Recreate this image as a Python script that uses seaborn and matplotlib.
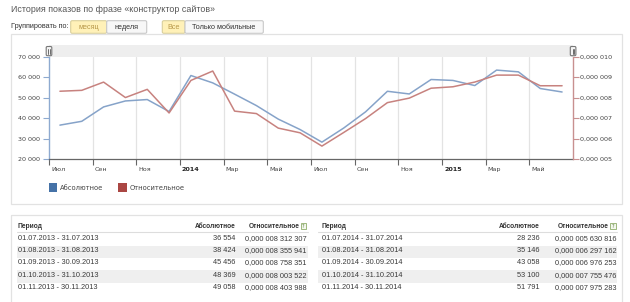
import numpy as np
import pandas as pd
import matplotlib
matplotlib.use("Agg")
import matplotlib.pyplot as plt
import matplotlib.transforms as mtransforms
from matplotlib.patches import Rectangle, FancyBboxPatch
import seaborn as sns

# ---------------- data ----------------
months = ["2013-07", "2013-08", "2013-09", "2013-10", "2013-11", "2013-12",
          "2014-01", "2014-02", "2014-03", "2014-04", "2014-05", "2014-06",
          "2014-07", "2014-08", "2014-09", "2014-10", "2014-11", "2014-12",
          "2015-01", "2015-02", "2015-03", "2015-04", "2015-05", "2015-06"]
absolute = [36554, 38424, 45456, 48369, 49058, 43200,
            60800, 57200, 51700, 46100, 39500, 34400,
            28236, 35146, 43058, 53100, 51791, 58850,
            58400, 55900, 63450, 62600, 54450, 52750]
# relative share, in millionths
relative = [8.312307, 8.355941, 8.758351, 8.003522, 8.403988, 7.25,
            8.84, 9.30, 7.34, 7.22, 6.51, 6.28,
            5.630816, 6.297162, 6.976253, 7.755476, 7.975283, 8.46,
            8.53, 8.76, 9.10, 9.10, 8.58, 8.58]
x_tick_labels = ["Июл", "Сен", "Ноя", "2014", "Мар", "Май",
                 "Июл", "Сен", "Ноя", "2015", "Мар", "Май"]
left_ticks = [20000, 30000, 40000, 50000, 60000, 70000]
right_ticks = [5, 6, 7, 8, 9, 10]
series_names = ["Абсолютное", "Относительное"]
title = "История показов по фразе «конструктор сайтов»"
left_rows = [0, 1, 2, 3, 4]
right_rows = [12, 13, 14, 15, 16]

# ---------------- setup ----------------
sns.set_style("white")
plt.rcParams["font.family"] = ["DejaVu Sans"]
W, H, DPI = 630, 302, 100
def pt(px):
    return px * 72.0 / DPI

UI = ["Liberation Sans", "DejaVu Sans"]
fig = plt.figure(figsize=(W / DPI, H / DPI), dpi=DPI)
fig.patch.set_facecolor("white")

bg = fig.add_axes([0, 0, 1, 1], zorder=0)
bg.set_xlim(0, W)
bg.set_ylim(H, 0)
bg.axis("off")

# header text
bg.text(11, 9, title, fontsize=pt(8.9), color="#555555", va="center", ha="left", family=UI)
bg.text(11, 27, "Группировать по:", fontsize=pt(7.3), color="#333333", va="center", ha="left", family=UI)

def button(x0, x1, label, active):
    fc = "#fff1b8" if active else "#f7f7f7"
    ec = "#d9cf9c" if active else "#c8c8c8"
    bg.add_patch(FancyBboxPatch((x0, 20.7), x1 - x0, 12.6,
                                boxstyle="round,pad=0,rounding_size=1.5",
                                fc=fc, ec=ec, lw=0.8))
    bg.text((x0 + x1) / 2, 27.2, label, fontsize=pt(7.3),
            color="#b8994a" if active else "#333333", ha="center", va="center", family=UI)

button(70.7, 106.7, "месяц", True)
button(106.7, 146.7, "неделя", False)
button(162.3, 185.0, "Все", True)
button(185.0, 263.3, "Только мобильные", False)

# chart panel
bg.add_patch(Rectangle((10.5, 33.5), 611, 170.5, fc="none", ec="#e2e2e2", lw=0.9))
# scroll band
bg.add_patch(Rectangle((49, 45), 524, 11.7, fc="#eeeeee", ec="none"))
for hx in (46.2, 570.3):
    bg.add_patch(FancyBboxPatch((hx, 46.5), 5.6, 9.2, boxstyle="round,pad=0,rounding_size=1.2",
                                fc="#f4f4f4", ec="#777777", lw=0.8))
    bg.plot([hx + 2.2, hx + 2.2], [48.8, 53.6], color="#555555", lw=0.6)
    bg.plot([hx + 3.4, hx + 3.4], [48.8, 53.6], color="#555555", lw=0.6)

# legend
bg.add_patch(Rectangle((48.5, 183.3), 8.6, 8.4, fc="#4572A7", ec="none"))
bg.text(60, 187.6, series_names[0], fontsize=pt(6.8), color="#444444", va="center", ha="left")
bg.add_patch(Rectangle((118.3, 183.3), 8.6, 8.4, fc="#AA4643", ec="none"))
bg.text(130, 187.6, series_names[1], fontsize=pt(6.8), color="#444444", va="center", ha="left")

# table panel
bg.add_patch(Rectangle((10.5, 215), 611, 120, fc="none", ec="#e2e2e2", lw=0.9))

def fmt_abs(v):
    return f"{v:,}".replace(",", " ")

def fmt_rel(v):
    s = f"{int(round(v * 1e6)):012d}"
    return "0," + " ".join(s[i:i + 3] for i in range(0, 12, 3))

def period(m):
    p = pd.Period(m, freq="M")
    return f"{p.start_time:%d.%m.%Y} - {p.end_time:%d.%m.%Y}"

row_y = [238.2, 250.6, 263.0, 275.4, 287.8]
def table(rows, xp, xa, xr, b0, b1):
    for k, yy in enumerate(row_y):
        if k % 2 == 1:
            bg.add_patch(Rectangle((b0, yy - 5.0), b1 - b0, 12.6, fc="#efefef", ec="none"))
    bg.plot([b0, b1], [231.7, 231.7], color="#dddddd", lw=0.8)
    bg.text(xp, 226.6, "Период", fontsize=pt(6.6), fontweight="bold", color="#333333", va="center", family=UI)
    bg.text(xa, 226.6, series_names[0], fontsize=pt(6.6), fontweight="bold", color="#333333", va="center", ha="right", family=UI)
    bg.text(xr - 7.5, 226.6, series_names[1], fontsize=pt(6.6), fontweight="bold", color="#333333", va="center", ha="right", family=UI)
    bg.add_patch(Rectangle((xr - 6.3, 222.8), 5.6, 6.0, fc="#f4f8ee", ec="#8fae6b", lw=0.6))
    bg.text(xr - 3.5, 226.0, "?", fontsize=pt(5), color="#5b7f3a", va="center", ha="center")
    for k, i in enumerate(rows):
        yy = row_y[k]
        bg.text(xp, yy, period(months[i]), fontsize=pt(7.4), color="#3a3a3a", va="center", family=UI)
        bg.text(xa, yy, fmt_abs(absolute[i]), fontsize=pt(7.4), color="#3a3a3a", va="center", ha="right", family=UI)
        bg.text(xr, yy, fmt_rel(relative[i]), fontsize=pt(7.4), color="#3a3a3a", va="center", ha="right", family=UI)

table(left_rows, 17.5, 235.7, 306.8, 16.7, 308.3)
table(right_rows, 321.7, 539.3, 616.2, 318.3, 616.7)

# ---------------- chart ----------------
ax = fig.add_axes([49 / W, 1 - 159 / H, 524 / W, (159 - 56.7) / H], zorder=2)
ax.patch.set_alpha(0)
pos = np.arange(len(months)) + 0.5
df = pd.DataFrame({"pos": pos, "abs": absolute, "rel": relative})

sns.lineplot(data=df, x="pos", y="abs", ax=ax, color="#86a3c9", lw=1.1)
ax.set_xlim(0, len(months))
ax.set_ylim(left_ticks[0], left_ticks[-1])
ax.set_yticks(left_ticks)
ax.set_yticklabels([fmt_abs(v) for v in left_ticks])
ax.set_xticks(np.arange(0, len(months), 2))
ax.set_xticklabels(x_tick_labels)
ax.set_xlabel("")
ax.set_ylabel("")
ax.grid(False)
for gx in np.arange(2, len(months), 2):
    ax.axvline(gx, color="#e3e3e3", lw=0.9, zorder=0)
ax.tick_params(axis="y", labelsize=pt(6.4), labelcolor="#444444", length=4, width=0.8,
               color="#8eaad0", direction="out", pad=2.5, left=True)
ax.tick_params(axis="x", labelsize=pt(6.4), labelcolor="#444444", length=4, width=0.8,
               color="#666666", direction="out", pad=1.5, bottom=True)
offset = mtransforms.ScaledTranslation(2 / DPI, 0, fig.dpi_scale_trans)
for i, lab in enumerate(ax.get_xticklabels()):
    lab.set_ha("left")
    lab.set_transform(lab.get_transform() + offset)
    if x_tick_labels[i].isdigit():
        lab.set_fontweight("bold")
        lab.set_color("#222222")
ax.spines["top"].set_visible(False)
ax.spines["right"].set_visible(False)
ax.spines["left"].set_color("#8eaad0")
ax.spines["left"].set_linewidth(1.0)
ax.spines["bottom"].set_color("#666666")
ax.spines["bottom"].set_linewidth(0.9)

ax2 = ax.twinx()
ax2.set_zorder(3)
ax2.patch.set_alpha(0)
sns.lineplot(data=df, x="pos", y="rel", ax=ax2, color="#c7827f", lw=1.1)
ax2.set_ylim(right_ticks[0], right_ticks[-1])
ax2.set_yticks(right_ticks)
ax2.set_yticklabels([f"0,000 {v:03d}" for v in right_ticks])
ax2.set_ylabel("")
ax2.grid(False)
ax2.tick_params(axis="y", labelsize=pt(6.4), labelcolor="#444444", length=4, width=0.8,
                color="#c89090", direction="out", pad=0.8, right=True)
for s in ("top", "left", "bottom"):
    ax2.spines[s].set_visible(False)
ax2.spines["right"].set_color("#c89090")
ax2.spines["right"].set_linewidth(1.0)

fig.savefig("out.png", dpi=DPI, facecolor="white")
